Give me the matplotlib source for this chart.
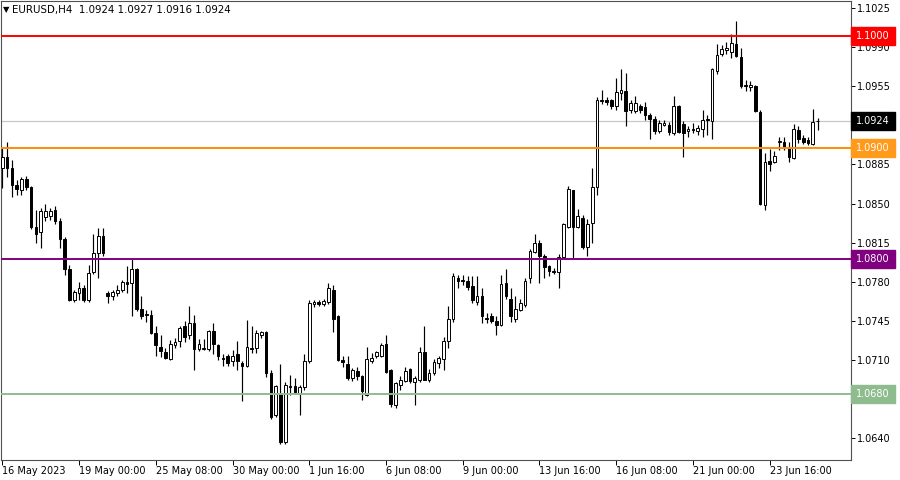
import matplotlib
matplotlib.use('Agg')
import matplotlib.pyplot as plt
from matplotlib.patches import Rectangle
from matplotlib.transforms import blended_transform_factory

# ---------------- data (EURUSD H4) ----------------
opens = [1.0882, 1.0892, 1.0882, 1.0867, 1.0862, 1.0872, 1.0865, 1.0829, 1.0825, 1.0838,
         1.0839, 1.0844, 1.0834, 1.0818, 1.0791, 1.0764, 1.0770, 1.0774, 1.0764, 1.0789,
         1.0806, 1.0821, 1.0770, 1.0767, 1.0770, 1.0773, 1.0780, 1.0779, 1.0791, 1.0756,
         1.0751, 1.0750, 1.0734, 1.0722, 1.0717, 1.0711, 1.0723, 1.0727, 1.0740, 1.0732,
         1.0743, 1.0720, 1.0721, 1.0720, 1.0736, 1.0723, 1.0712, 1.0714, 1.0709, 1.0715,
         1.0707, 1.0705, 1.0721, 1.0721, 1.0732, 1.0735, 1.0698, 1.0661, 1.0680, 1.0637,
         1.0687, 1.0687, 1.0680, 1.0686, 1.0709, 1.0760, 1.0762, 1.0760, 1.0762, 1.0773,
         1.0749, 1.0710, 1.0706, 1.0694, 1.0700, 1.0696, 1.0679, 1.0709, 1.0714, 1.0714,
         1.0724, 1.0701, 1.0670, 1.0688, 1.0691, 1.0702, 1.0690, 1.0692, 1.0717, 1.0692,
         1.0698, 1.0707, 1.0711, 1.0727, 1.0747, 1.0783, 1.0782, 1.0781, 1.0776, 1.0762,
         1.0767, 1.0748, 1.0749, 1.0745, 1.0741, 1.0779, 1.0765, 1.0747, 1.0755, 1.0759,
         1.0783, 1.0807, 1.0815, 1.0803, 1.0794, 1.0790, 1.0789, 1.0802, 1.0829, 1.0862,
         1.0829, 1.0837, 1.0811, 1.0833, 1.0865, 1.0943, 1.0943, 1.0943, 1.0937, 1.0949,
         1.0951, 1.0934, 1.0933, 1.0937, 1.0936, 1.0929, 1.0926, 1.0915, 1.0920, 1.0920,
         1.0913, 1.0937, 1.0921, 1.0915, 1.0917, 1.0915, 1.0917, 1.0926, 1.0924, 1.0969,
         1.0984, 1.0987, 1.0986, 1.0993, 1.0981, 1.0956, 1.0954, 1.0955, 1.0932, 1.0849,
         1.0888, 1.0887, 1.0905, 1.0905, 1.0900, 1.0891, 1.0916, 1.0909, 1.0907, 1.0903,
         1.0924]
highs = [1.0900, 1.0905, 1.0889, 1.0871, 1.0874, 1.0875, 1.0866, 1.0844, 1.0846, 1.0850,
         1.0846, 1.0848, 1.0837, 1.0820, 1.0795, 1.0773, 1.0780, 1.0777, 1.0795, 1.0823,
         1.0828, 1.0828, 1.0772, 1.0773, 1.0777, 1.0782, 1.0794, 1.0800, 1.0792, 1.0767,
         1.0755, 1.0755, 1.0740, 1.0732, 1.0721, 1.0728, 1.0730, 1.0740, 1.0745, 1.0758,
         1.0750, 1.0729, 1.0729, 1.0737, 1.0743, 1.0724, 1.0715, 1.0715, 1.0719, 1.0727,
         1.0709, 1.0746, 1.0740, 1.0737, 1.0736, 1.0736, 1.0701, 1.0688, 1.0706, 1.0690,
         1.0697, 1.0694, 1.0688, 1.0715, 1.0764, 1.0764, 1.0764, 1.0765, 1.0779, 1.0777,
         1.0750, 1.0714, 1.0714, 1.0703, 1.0704, 1.0697, 1.0722, 1.0716, 1.0718, 1.0725,
         1.0732, 1.0702, 1.0690, 1.0696, 1.0704, 1.0703, 1.0696, 1.0722, 1.0740, 1.0702,
         1.0711, 1.0714, 1.0731, 1.0758, 1.0788, 1.0786, 1.0786, 1.0785, 1.0785, 1.0785,
         1.0774, 1.0752, 1.0752, 1.0749, 1.0786, 1.0791, 1.0774, 1.0767, 1.0765, 1.0783,
         1.0809, 1.0823, 1.0817, 1.0805, 1.0795, 1.0792, 1.0805, 1.0833, 1.0866, 1.0862,
         1.0845, 1.0840, 1.0836, 1.0882, 1.0945, 1.0952, 1.0945, 1.0944, 1.0962, 1.0970,
         1.0967, 1.0943, 1.0946, 1.0939, 1.0941, 1.0931, 1.0928, 1.0925, 1.0925, 1.0923,
         1.0946, 1.0938, 1.0924, 1.0919, 1.0922, 1.0920, 1.0934, 1.0929, 1.0971, 1.0993,
         1.0992, 1.0995, 1.1002, 1.1013, 1.0989, 1.0961, 1.0960, 1.0956, 1.0934, 1.0895,
         1.0899, 1.0897, 1.0910, 1.0910, 1.0905, 1.0921, 1.0919, 1.0911, 1.0910, 1.0935,
         1.0927]
lows = [1.0864, 1.0874, 1.0856, 1.0858, 1.0858, 1.0862, 1.0827, 1.0815, 1.0810, 1.0834,
        1.0835, 1.0832, 1.0810, 1.0786, 1.0763, 1.0762, 1.0764, 1.0762, 1.0762, 1.0787,
        1.0783, 1.0803, 1.0761, 1.0764, 1.0767, 1.0771, 1.0770, 1.0749, 1.0754, 1.0747,
        1.0744, 1.0733, 1.0714, 1.0713, 1.0711, 1.0710, 1.0721, 1.0722, 1.0726, 1.0729,
        1.0701, 1.0718, 1.0719, 1.0718, 1.0715, 1.0710, 1.0705, 1.0705, 1.0705, 1.0701,
        1.0673, 1.0704, 1.0716, 1.0716, 1.0730, 1.0695, 1.0657, 1.0659, 1.0635, 1.0635,
        1.0679, 1.0680, 1.0661, 1.0683, 1.0707, 1.0757, 1.0758, 1.0758, 1.0760, 1.0735,
        1.0709, 1.0704, 1.0692, 1.0691, 1.0692, 1.0674, 1.0678, 1.0707, 1.0712, 1.0713,
        1.0698, 1.0668, 1.0667, 1.0683, 1.0690, 1.0689, 1.0670, 1.0690, 1.0692, 1.0690,
        1.0697, 1.0703, 1.0701, 1.0721, 1.0744, 1.0774, 1.0777, 1.0773, 1.0761, 1.0759,
        1.0743, 1.0743, 1.0743, 1.0732, 1.0740, 1.0765, 1.0744, 1.0744, 1.0754, 1.0757,
        1.0779, 1.0806, 1.0779, 1.0783, 1.0785, 1.0787, 1.0774, 1.0801, 1.0828, 1.0801,
        1.0828, 1.0809, 1.0803, 1.0815, 1.0858, 1.0939, 1.0938, 1.0935, 1.0934, 1.0943,
        1.0919, 1.0931, 1.0931, 1.0931, 1.0925, 1.0908, 1.0912, 1.0913, 1.0919, 1.0911,
        1.0911, 1.0913, 1.0892, 1.0910, 1.0913, 1.0911, 1.0910, 1.0911, 1.0908, 1.0966,
        1.0982, 1.0984, 1.0980, 1.0981, 1.0953, 1.0951, 1.0951, 1.0932, 1.0849, 1.0844,
        1.0879, 1.0886, 1.0898, 1.0898, 1.0887, 1.0890, 1.0904, 1.0903, 1.0902, 1.0902,
        1.0916]
closes = [1.0892, 1.0882, 1.0867, 1.0863, 1.0872, 1.0865, 1.0829, 1.0823, 1.0843, 1.0843,
          1.0843, 1.0834, 1.0818, 1.0791, 1.0764, 1.0771, 1.0774, 1.0764, 1.0788, 1.0806,
          1.0821, 1.0806, 1.0767, 1.0771, 1.0773, 1.0780, 1.0778, 1.0791, 1.0756, 1.0749,
          1.0750, 1.0734, 1.0723, 1.0718, 1.0712, 1.0724, 1.0726, 1.0739, 1.0731, 1.0743,
          1.0720, 1.0724, 1.0720, 1.0736, 1.0724, 1.0714, 1.0711, 1.0707, 1.0714, 1.0709,
          1.0705, 1.0722, 1.0720, 1.0734, 1.0735, 1.0698, 1.0659, 1.0687, 1.0637, 1.0688,
          1.0686, 1.0681, 1.0686, 1.0709, 1.0761, 1.0762, 1.0760, 1.0763, 1.0774, 1.0747,
          1.0710, 1.0708, 1.0694, 1.0701, 1.0696, 1.0682, 1.0711, 1.0712, 1.0717, 1.0723,
          1.0699, 1.0671, 1.0689, 1.0692, 1.0700, 1.0691, 1.0694, 1.0717, 1.0692, 1.0698,
          1.0708, 1.0712, 1.0727, 1.0747, 1.0785, 1.0781, 1.0781, 1.0775, 1.0764, 1.0767,
          1.0749, 1.0747, 1.0745, 1.0741, 1.0778, 1.0767, 1.0749, 1.0756, 1.0761, 1.0781,
          1.0808, 1.0815, 1.0803, 1.0793, 1.0790, 1.0789, 1.0802, 1.0832, 1.0863, 1.0829,
          1.0839, 1.0811, 1.0832, 1.0865, 1.0943, 1.0942, 1.0941, 1.0937, 1.0950, 1.0952,
          1.0933, 1.0940, 1.0940, 1.0934, 1.0929, 1.0926, 1.0915, 1.0922, 1.0922, 1.0914,
          1.0937, 1.0914, 1.0913, 1.0917, 1.0916, 1.0918, 1.0925, 1.0925, 1.0970, 1.0983,
          1.0988, 1.0989, 1.0994, 1.0982, 1.0955, 1.0955, 1.0956, 1.0933, 1.0850, 1.0887,
          1.0885, 1.0893, 1.0906, 1.0901, 1.0892, 1.0917, 1.0908, 1.0905, 1.0904, 1.0923,
          1.0924]

xtick_pos = [0, 16, 32, 48, 64, 80, 96, 112, 128, 144, 160]
xtick_labels = ["16 May 2023", "19 May 00:00", "25 May 08:00", "30 May 00:00",
                "1 Jun 16:00", "6 Jun 08:00", "9 Jun 00:00", "13 Jun 16:00",
                "16 Jun 08:00", "21 Jun 00:00", "23 Jun 16:00"]
ytick_vals = [1.0640, 1.0675, 1.0710, 1.0745, 1.0780, 1.0815, 1.0850,
              1.0885, 1.0920, 1.0955, 1.0990, 1.1025]
# tick labels that sit fully under a price label box in the reference
hidden_ytick_labels = [1.0675, 1.0920]

levels = [1.1000, 1.0900, 1.0800, 1.0680]
level_line_colors = ['#FF0000', '#FF8C00', '#800080', '#8FBC8F']
level_box_colors = ['#FF0000', '#FF9A1A', '#800080', '#8FBC8F']
last_price = 1.0924
header_text = "EURUSD,H4  1.0924 1.0927 1.0916 1.0924"

# ---------------- figure ----------------
plt.rcParams['font.family'] = ['DejaVu Sans']
fig = plt.figure(figsize=(9, 4.8), dpi=100)
ax = fig.add_axes([1 / 900, 20 / 480, 850 / 900, 459 / 480])
ax.set_facecolor('white')

n = len(opens)
xs = list(range(n))

# wicks
ax.vlines(xs, lows, highs, colors='black', linewidth=0.85, zorder=2)

# bodies
bottoms = [min(o, c) for o, c in zip(opens, closes)]
heights = [max(abs(c - o), 0.000001) for o, c in zip(opens, closes)]
faces = ['white' if c >= o else 'black' for o, c in zip(opens, closes)]
ax.bar(xs, heights, bottom=bottoms, width=0.56, color=faces,
       edgecolor='black', linewidth=0.7, zorder=3)

# current price line (background)
ax.axhline(last_price, color='#C8C8C8', linewidth=0.9, zorder=1)

# level lines
for lv, col in zip(levels, level_line_colors):
    ax.axhline(lv, color=col, linewidth=1.4, zorder=4)

ax.set_xlim(-0.271, 176.96)
ax.set_ylim(1.06205, 1.10313)

# axes styling
for s in ['left', 'top', 'bottom', 'right']:
    ax.spines[s].set_color('#505050')
    ax.spines[s].set_linewidth(0.8)

ax.yaxis.tick_right()
ax.set_yticks(ytick_vals)
ax.set_yticklabels(["" if v in hidden_ytick_labels else f"{v:.4f}" for v in ytick_vals])
ax.tick_params(axis='y', direction='out', length=3, width=0.7, pad=1.5,
               labelsize=7, colors='black')

ax.set_xticks(xtick_pos)
ax.set_xticklabels(xtick_labels)
for lab in ax.get_xticklabels():
    lab.set_horizontalalignment('left')
ax.tick_params(axis='x', direction='out', length=3.5, width=0.7, pad=1.0,
               labelsize=7, colors='black')

# price labels on right axis
trans = blended_transform_factory(ax.transAxes, ax.transData)
box_h = 18 * (1.10313 - 1.06205) / 459
box_w = 44 / 850
for lv, col in zip(levels + [last_price], level_box_colors + ['#000000']):
    ax.add_patch(Rectangle((1.0 + 0.5 / 850, lv - box_h / 2), box_w, box_h,
                           transform=trans, facecolor=col, edgecolor=col,
                           clip_on=False, zorder=6))
    ax.text(1.0 + 5 / 850, lv, f"{lv:.4f}", transform=trans, color='white',
            fontsize=7, ha='left', va='center', clip_on=False, zorder=7)

# header
fig.text(3 / 900, 1 - 10 / 480, "\u25BC", fontsize=6, ha='left', va='center')
fig.text(12 / 900, 1 - 10 / 480, header_text, fontsize=7.4, ha='left', va='center')

fig.savefig('out.png', dpi=100, facecolor='white')
